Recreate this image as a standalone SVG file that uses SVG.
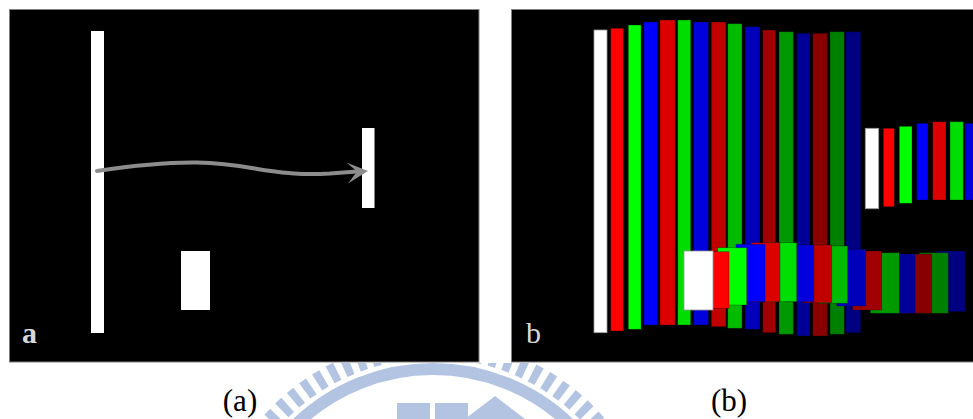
<svg xmlns="http://www.w3.org/2000/svg" width="973" height="419" viewBox="0 0 973 419">
  <defs>
    <style>
      .panel { fill: #000; stroke: #808080; stroke-width: 1; }
      .wb { fill: #fff; }
      .wbo { fill: #fff; stroke: #9a9a9a; stroke-width: 0.8; }
      .wm { fill: #b3c4e3; }
      .cap { font-family: "Liberation Serif", "Times New Roman", serif; font-size: 31px; fill: #000; text-anchor: middle; }
      .lbl { font-family: "Liberation Serif", "Times New Roman", serif; font-size: 30px; fill: #d8d8d8; }
      .bar { stroke: #000; stroke-opacity: 0.35; stroke-width: 0.8; }
    </style>
    <clipPath id="wmclip">
      <rect x="0" y="363" width="973" height="56"/>
    </clipPath>
  </defs>

  <rect x="0" y="0" width="973" height="419" fill="#fff"/>

  <!-- watermark -->
  <g id="watermark" clip-path="url(#wmclip)">
    <circle cx="433" cy="566" r="197" fill="none" stroke="#b3c4e3" stroke-width="12"/>
    <circle cx="433" cy="566" r="217" fill="none" stroke="#b3c4e3" stroke-width="19" stroke-dasharray="8 7"/>
    <rect class="wm" x="397" y="403" width="33" height="16"/>
    <rect class="wm" x="435" y="403" width="33" height="16"/>
    <polygon class="wm" points="465,419 495,396 525,419"/>
  </g>

  <!-- panel a -->
  <g id="panel-a">
    <rect class="panel" x="9.5" y="9.5" width="469.5" height="352.5"/>
    <rect id="a-wall" class="wb" x="91" y="31" width="13" height="302"/>
    <rect id="a-target" class="wb" x="362" y="128" width="12.5" height="80"/>
    <rect id="a-block" class="wb" x="181" y="251" width="29" height="59"/>
    <text class="lbl" x="22" y="343" font-weight="bold">a</text>
  </g>

  <g id="connectors">
    <path d="M97,171 C130,166 165,162 197,162.5 C230,163 250,168 267,170.5 C285,173 300,175 330,173.5 L357,171.5" fill="none" stroke="#8c8c8c" stroke-width="4" stroke-linecap="round"/>
    <polygon points="368,171 346.5,162.5 357,171.5 348,183.5" fill="#8c8c8c"/>
  </g>

  <!-- panel b -->
  <g id="panel-b">
    <rect class="panel" x="511.5" y="9.5" width="462" height="352.5"/>
    <g id="b-tall">
      <rect class="wbo" x="594" y="30" width="13" height="302.7"/>
      <rect class="bar" fill="#ff0000" x="610.7" y="28.3" width="12.6" height="302.7"/>
      <rect class="bar" fill="#00ff00" x="628.3" y="25" width="12.7" height="304.3"/>
      <rect class="bar" fill="#0000ff" x="644" y="22" width="13.3" height="303"/>
      <rect class="bar" fill="#dd0000" x="660" y="20" width="15" height="305"/>
      <rect class="bar" fill="#00dd00" x="677.7" y="20" width="13" height="305"/>
      <rect class="bar" fill="#0000dd" x="693.7" y="22" width="14.6" height="303"/>
      <rect class="bar" fill="#c00000" x="711.3" y="22" width="14.7" height="304.7"/>
      <rect class="bar" fill="#00bb00" x="727.7" y="23.7" width="14.3" height="304.6"/>
      <rect class="bar" fill="#0000bb" x="745" y="26.7" width="15" height="302.6"/>
      <rect class="bar" fill="#a00000" x="762.7" y="30" width="13" height="302.7"/>
      <rect class="bar" fill="#009900" x="779" y="31.7" width="14.3" height="302.6"/>
      <rect class="bar" fill="#000099" x="796.7" y="33.3" width="13.3" height="302.7"/>
      <rect class="bar" fill="#880000" x="812.7" y="33.3" width="14.6" height="302.7"/>
      <rect class="bar" fill="#008000" x="830" y="31.7" width="14.3" height="302.6"/>
      <rect class="bar" fill="#000080" x="845.7" y="31.7" width="15" height="301"/>
    </g>
    <g id="b-target">
      <rect class="wbo" x="865.3" y="128.3" width="13.4" height="80.4"/>
      <rect class="bar" fill="#ff0000" x="883.3" y="128.3" width="11" height="78.4"/>
      <rect class="bar" fill="#00ff00" x="899.3" y="126.3" width="12.7" height="77"/>
      <rect class="bar" fill="#0000ff" x="916.7" y="123.3" width="11.3" height="76.7"/>
      <rect class="bar" fill="#dd0000" x="932.7" y="121.7" width="13.3" height="78.3"/>
      <rect class="bar" fill="#00dd00" x="950" y="121.7" width="13.3" height="78.3"/>
      <rect class="bar" fill="#0000dd" x="965" y="123.3" width="10" height="76.7"/>
    </g>
    <g id="b-block">
      <rect class="bar" fill="#000080" x="936" y="251" width="29" height="60.7"/>
      <rect class="bar" fill="#008000" x="919.3" y="252.7" width="29" height="60.6"/>
      <rect class="bar" fill="#880000" x="902.7" y="254" width="29" height="59.3"/>
      <rect class="bar" fill="#000099" x="886" y="254" width="29" height="59.3"/>
      <rect class="bar" fill="#009900" x="870.3" y="252.7" width="29" height="60.6"/>
      <rect class="bar" fill="#a00000" x="852.7" y="251" width="29" height="59"/>
      <rect class="bar" fill="#0000bb" x="836.7" y="249.3" width="29" height="56.7"/>
      <rect class="bar" fill="#00bb00" x="818.7" y="246" width="29" height="57.3"/>
      <rect class="bar" fill="#c00000" x="802.7" y="245" width="29" height="57.7"/>
      <rect class="bar" fill="#0000dd" x="785" y="245" width="29" height="56.7"/>
      <rect class="bar" fill="#00dd00" x="767.7" y="242.7" width="29" height="59"/>
      <rect class="bar" fill="#dd0000" x="751" y="242.7" width="29" height="59"/>
      <rect class="bar" fill="#0000ff" x="736" y="244.3" width="29" height="57.4"/>
      <rect class="bar" fill="#00ff00" x="717.7" y="247.7" width="29" height="57.3"/>
      <rect class="bar" fill="#ff0000" x="700" y="251.7" width="29" height="56.6"/>
      <rect class="wbo" x="684" y="251" width="29" height="59"/>
    </g>
    <text class="lbl" x="526" y="343">b</text>
  </g>

  <g id="captions">
    <text class="cap" x="240" y="411">(a)</text>
    <text class="cap" x="729" y="411">(b)</text>
  </g>
</svg>
